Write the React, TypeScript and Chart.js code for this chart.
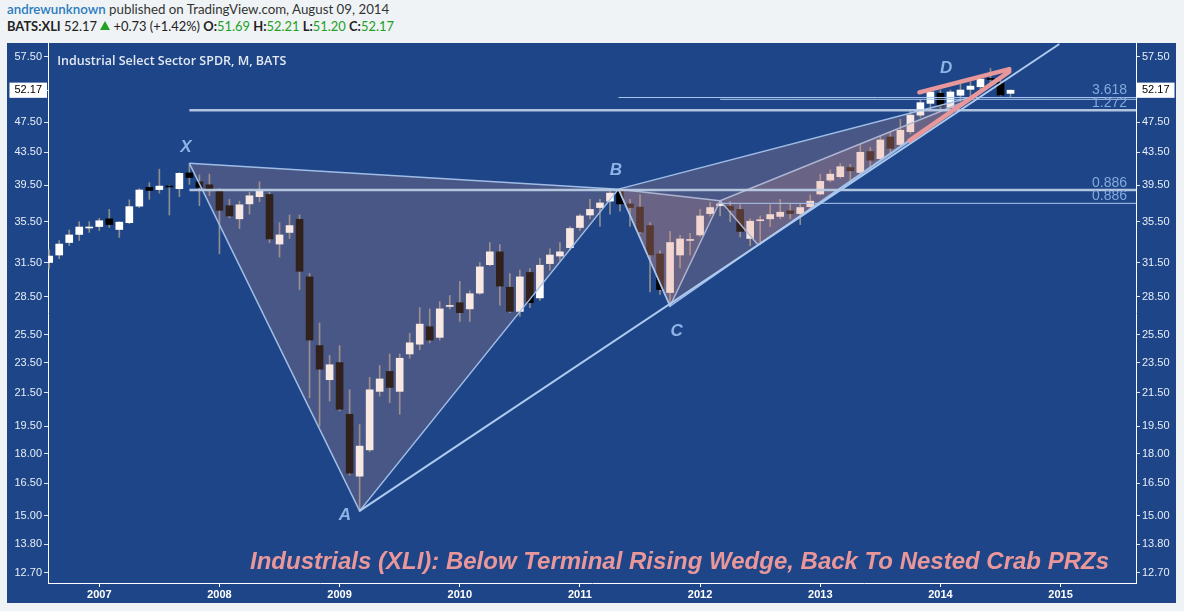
import React, { useEffect, useRef } from 'react';
import { Chart, registerables } from 'chart.js';

Chart.register(...registerables);
Chart.defaults.font.family = '"Liberation Sans", Arial, sans-serif';

// ---------- DATA ----------
const months = [
  '2006-08', '2006-09', '2006-10', '2006-11', '2006-12',
  '2007-01', '2007-02', '2007-03', '2007-04', '2007-05', '2007-06', '2007-07', '2007-08', '2007-09', '2007-10', '2007-11', '2007-12',
  '2008-01', '2008-02', '2008-03', '2008-04', '2008-05', '2008-06', '2008-07', '2008-08', '2008-09', '2008-10', '2008-11', '2008-12',
  '2009-01', '2009-02', '2009-03', '2009-04', '2009-05', '2009-06', '2009-07', '2009-08', '2009-09', '2009-10', '2009-11', '2009-12',
  '2010-01', '2010-02', '2010-03', '2010-04', '2010-05', '2010-06', '2010-07', '2010-08', '2010-09', '2010-10', '2010-11', '2010-12',
  '2011-01', '2011-02', '2011-03', '2011-04', '2011-05', '2011-06', '2011-07', '2011-08', '2011-09', '2011-10', '2011-11', '2011-12',
  '2012-01', '2012-02', '2012-03', '2012-04', '2012-05', '2012-06', '2012-07', '2012-08', '2012-09', '2012-10', '2012-11', '2012-12',
  '2013-01', '2013-02', '2013-03', '2013-04', '2013-05', '2013-06', '2013-07', '2013-08', '2013-09', '2013-10', '2013-11', '2013-12',
  '2014-01', '2014-02', '2014-03', '2014-04', '2014-05', '2014-06', '2014-07', '2014-08',
];

const opens = [
  31.5, 32.2, 33.4, 34.2, 34.85,
  35.0, 35.8, 34.7, 35.4, 37.15, 39.25, 39.0, 39.4, 39.1, 40.95, 39.9, 39.55,
  38.9, 37.2, 35.8, 37.4, 38.2, 38.45, 33.25, 34.4, 35.75, 30.2, 24.7, 22.35,
  23.5, 20.2, 16.85, 18.2, 21.6, 22.9, 21.6, 24.1, 24.8, 26.1, 25.3, 27.7,
  28.0, 27.5, 28.8, 31.3, 32.5, 29.3, 27.3, 30.6, 28.4, 31.4, 32.1, 32.9,
  34.9, 36.2, 37.0, 37.7, 38.8, 37.4, 37.05, 35.1, 32.3, 28.85, 32.2, 33.6,
  34.15, 36.35, 37.2, 37.15, 36.8, 33.8, 35.6, 35.8, 36.05, 36.65, 36.35, 37.1,
  38.5, 40.1, 40.5, 41.6, 41.0, 43.6, 42.7, 45.5, 44.5, 46.2, 48.5, 50.2,
  51.7, 49.6, 51.4, 52.3, 52.7, 53.95, 53.35, 51.69,
];

const highs = [
  32.7, 33.6, 34.65, 35.5, 35.5,
  35.85, 36.8, 35.5, 37.85, 39.1, 39.8, 41.4, 39.5, 41.0, 42.1, 40.7, 40.8,
  39.1, 37.9, 37.7, 38.7, 39.9, 38.7, 35.4, 36.2, 36.2, 30.5, 26.4, 24.0,
  24.7, 21.7, 19.6, 22.5, 23.3, 24.1, 24.1, 25.6, 27.6, 27.5, 28.1, 28.6,
  29.8, 29.0, 31.5, 33.4, 33.2, 30.5, 30.8, 30.95, 31.9, 32.8, 33.4, 35.0,
  36.3, 37.9, 37.9, 38.8, 39.05, 37.9, 38.4, 35.4, 32.6, 34.5, 34.1, 34.3,
  36.8, 37.55, 37.75, 37.65, 37.3, 35.8, 36.1, 37.3, 37.9, 37.4, 37.4, 38.4,
  40.8, 41.3, 42.1, 42.0, 44.5, 44.1, 45.6, 46.1, 47.9, 49.1, 50.7, 52.4,
  52.2, 52.2, 53.1, 53.5, 54.0, 55.6, 54.3, 52.21,
];

const lows = [
  30.95, 31.85, 33.1, 33.6, 34.4,
  34.6, 34.9, 33.9, 35.3, 37.0, 37.9, 38.6, 36.2, 38.2, 39.6, 37.2, 38.3,
  32.3, 35.9, 34.8, 36.3, 37.65, 33.4, 32.0, 33.8, 29.1, 21.2, 19.5, 21.0,
  20.4, 16.9, 15.2, 18.1, 21.3, 20.9, 20.2, 23.8, 24.4, 24.9, 25.1, 27.5,
  26.5, 26.5, 28.7, 31.2, 27.8, 27.2, 26.9, 27.6, 28.2, 30.8, 31.7, 32.7,
  34.6, 35.8, 35.0, 36.3, 36.6, 35.0, 34.3, 28.9, 28.7, 27.75, 31.0, 32.2,
  34.0, 36.1, 36.1, 35.5, 33.95, 33.1, 33.2, 35.0, 35.8, 35.8, 35.2, 36.9,
  38.4, 39.9, 40.3, 39.9, 40.8, 41.4, 42.5, 43.4, 44.2, 45.9, 48.2, 49.1,
  49.3, 48.5, 50.5, 50.9, 52.0, 53.3, 51.3, 51.2,
];

const closes = [
  32.1, 33.25, 34.15, 34.95, 34.9,
  35.6, 35.2, 35.45, 37.1, 38.95, 38.9, 39.4, 39.3, 40.9, 40.4, 39.25, 38.9,
  36.7, 36.1, 37.3, 38.3, 38.85, 33.75, 34.15, 35.1, 30.7, 25.1, 23.05, 23.35,
  20.5, 17.0, 18.4, 21.7, 22.4, 21.85, 23.8, 24.9, 26.3, 25.1, 27.5, 27.75,
  27.2, 28.75, 31.1, 32.5, 29.4, 27.3, 30.2, 28.0, 31.25, 32.2, 32.5, 34.8,
  36.1, 36.8, 37.5, 38.6, 37.4, 37.0, 34.45, 32.2, 29.1, 33.4, 33.75, 33.7,
  36.1, 37.0, 37.4, 36.7, 34.5, 35.55, 35.7, 36.25, 36.5, 36.35, 37.0, 37.7,
  39.95, 40.8, 41.7, 41.2, 43.5, 42.5, 45.1, 44.0, 46.4, 48.5, 50.3, 51.9,
  49.8, 51.9, 52.2, 52.8, 53.9, 53.85, 51.44, 52.17,
];

const yTicks = [12.7, 13.8, 15.0, 16.5, 18.0, 19.5, 21.5, 23.5, 25.5, 28.5, 31.5, 35.5, 39.5, 43.5, 47.5, 52.17, 57.5];
const lastPrice = 52.17;
const yearLabels = ['2007', '2008', '2009', '2010', '2011', '2012', '2013', '2014', '2015'];

// Pattern pivots: [months since Jan 2007, price]
const pivotX = [9, 42.12];
const pivotA = [26, 15.22];
const pivotB = [51.85, 39.05];
const pivotC = [57, 27.73];
const pivotD = [87, 51.07];
const nestedB = [62, 37.75];
const nestedC = [65.8, 33.16];
const nestedD = [87, 50.8];
const supportEnd = [95.88, 59.73];

const fibPrices = [38.95, 37.46, 51.07, 50.8, 49.19];
const fibStarts = [9, 62, 51.85, 62, 9];
const fibNames = ['0.886', '0.886', '3.618', '', '1.272'];

const wedgeUpper = [[81.9, 51.85], [90.88, 55.5]];
const wedgeLower = [[80.9, 45.0], [90.88, 55.1]];

const pivotLabels = ['X', 'A', 'B', 'C', 'D'];
const pivotLabelPos = [[8.66, 44.18], [24.54, 15.04], [51.6, 41.3], [57.65, 25.78], [84.56, 55.68]];

const xRange = [-5.12, 103.53];
const yRange = [12.324, 59.906];

// ---------- HELPERS ----------
const monthIndex = (s: string) => {
  const [yy, mm] = s.split('-').map(Number);
  return (yy - 2007) * 12 + (mm - 1);
};
const pt = (p: number[]) => ({ x: p[0], y: p[1] });

const FILL = 'rgba(222,150,130,0.22)';
const EDGE = 'rgba(165,195,236,0.95)';

function fitText(ctx: CanvasRenderingContext2D, text: string, x: number, y: number, width: number, font: string, color: string) {
  ctx.save();
  ctx.font = font;
  ctx.fillStyle = color;
  ctx.textAlign = 'left';
  ctx.textBaseline = 'alphabetic';
  const w = ctx.measureText(text).width;
  ctx.translate(x, y);
  ctx.scale(width / w, 1);
  ctx.fillText(text, 0, 0);
  ctx.restore();
}

const overlayText = {
  id: 'overlayText',
  afterDatasetsDraw(chart: any) {
    const { ctx, chartArea, scales } = chart;
    const x = scales.x;
    const y = scales.y;
    fitText(ctx, 'Industrial Select Sector SPDR, M, BATS', chartArea.left + 9.3, chartArea.top + 22, 229, '600 13px "Open Sans"', '#e3e9f3');
    fitText(ctx, 'Industrials (XLI): Below Terminal Rising Wedge, Back To Nested Crab PRZs', chartArea.left + 202, chartArea.bottom - 13.7, 859, 'italic bold 23px "Liberation Sans"', '#e9979a');

    ctx.save();
    ctx.font = 'italic bold 17px "Liberation Sans"';
    ctx.fillStyle = '#8fb3e6';
    ctx.textAlign = 'center';
    ctx.textBaseline = 'middle';
    pivotLabels.forEach((t, i) => {
      ctx.fillText(t, x.getPixelForValue(pivotLabelPos[i][0]), y.getPixelForValue(pivotLabelPos[i][1]));
    });
    ctx.restore();

    ctx.save();
    ctx.font = '14px "Liberation Sans"';
    ctx.fillStyle = '#86a9dd';
    ctx.textAlign = 'right';
    ctx.textBaseline = 'alphabetic';
    fibNames.forEach((t, i) => {
      if (!t) return;
      ctx.fillText(t, x.getPixelForValue(102.64), y.getPixelForValue(fibPrices[i]) - 3);
    });
    ctx.restore();
  },
};

export default function App() {
  const ref = useRef<HTMLCanvasElement>(null);

  useEffect(() => {
    const xs = months.map(monthIndex);
    const datasets: any[] = [];
    const line = (label: string, pts: number[][], color: string, width: number, order: number, extra: any = {}) => {
      datasets.push({
        type: 'line', label, data: pts.map(pt), borderColor: color, borderWidth: width,
        pointRadius: 0, tension: 0, fill: false, order, ...extra,
      });
      return datasets.length - 1;
    };

    datasets.push({
      type: 'bar', label: 'wick', data: xs.map((x, i) => ({ x, y: [lows[i], highs[i]] })),
      backgroundColor: '#8e8e8e', barThickness: 1, grouped: false, order: 30,
    });
    datasets.push({
      type: 'bar', label: 'body', data: xs.map((x, i) => ({ x, y: [opens[i], closes[i]] })),
      backgroundColor: (c: any) => (closes[c.dataIndex] >= opens[c.dataIndex] ? '#ffffff' : '#000000'),
      barThickness: 7, grouped: false, minBarLength: 1, order: 29,
    });

    // XAB triangle
    const iXB = line('XB', [pivotX, pivotB], EDGE, 1.5, 20);
    line('XAB', [pivotX, pivotA, pivotB], EDGE, 1.5, 20, { fill: { target: iXB, above: FILL, below: FILL } });
    // BCD triangle
    const iBD = line('BD', [pivotB, pivotD], EDGE, 1.5, 20);
    line('BCD', [pivotB, pivotC, pivotD], EDGE, 1.5, 20, { fill: { target: iBD, above: FILL, below: FILL } });
    // nested crab: X'A'B' and B'C'D'
    const iBB = line('BB2', [pivotB, nestedB], EDGE, 1.5, 20);
    line('BCB2', [pivotB, pivotC, nestedB], EDGE, 1.5, 20, { fill: { target: iBB, above: FILL, below: FILL } });
    const iBD2 = line('B2D2', [nestedB, nestedD], EDGE, 1.5, 20);
    line('B2C2D2', [nestedB, nestedC, nestedD], EDGE, 1.5, 20, { fill: { target: iBD2, above: FILL, below: FILL } });

    // fib levels
    fibPrices.forEach((p, i) => {
      const thick = fibNames[i] === '1.272' || i === 0;
      line('fib' + i, [[fibStarts[i], p], [xRange[1], p]], thick ? 'rgba(186,203,228,0.95)' : '#aac6ef', thick ? 2.5 : 1, 10);
    });

    // support line
    line('support', [pivotA, supportEnd], '#aecaf0', 2, 9);
    // rising wedge
    line('wedgeU', wedgeUpper, '#e8979a', 4.5, 1, { borderCapStyle: 'round' });
    line('wedgeL', wedgeLower, '#e8979a', 4.5, 1, { borderCapStyle: 'round' });

    const yAxis = (position: string, width: number) => ({
      type: 'logarithmic',
      position,
      min: yRange[0],
      max: yRange[1],
      afterBuildTicks: (s: any) => { s.ticks = yTicks.map((v) => ({ value: v })); },
      afterFit: (s: any) => { s.width = width; s.paddingTop = 0; s.paddingBottom = 0; },
      grid: { display: true, drawOnChartArea: false, drawTicks: true, tickLength: 4, tickColor: '#dfe6f2' },
      border: { display: true, color: '#ffffff', width: 1 },
      ticks: {
        autoSkip: false,
        padding: 2,
        font: { size: 11 },
        color: (c: any) => (c.tick && c.tick.value === lastPrice ? '#000000' : '#e6edf7'),
        showLabelBackdrop: (c: any) => !!(c.tick && c.tick.value === lastPrice),
        backdropColor: '#ffffff',
        backdropPadding: { top: 1, bottom: 1, left: 5, right: 5 },
        callback: (v: any) => Number(v).toFixed(2),
      },
    });

    const chart = new Chart(ref.current as HTMLCanvasElement, {
      type: 'bar',
      data: { datasets },
      options: {
        responsive: false,
        animation: false,
        devicePixelRatio: 1,
        layout: { padding: 0, autoPadding: false },
        plugins: { legend: { display: false }, tooltip: { enabled: false }, title: { display: false } },
        scales: {
          x: {
            type: 'linear',
            min: xRange[0],
            max: xRange[1],
            offset: false,
            afterBuildTicks: (s: any) => { s.ticks = yearLabels.map((_, i) => ({ value: i * 12 })); },
            afterFit: (s: any) => { s.height = 20; s.paddingLeft = 0; s.paddingRight = 0; },
            grid: { display: true, drawOnChartArea: false, drawTicks: true, tickLength: 4, tickColor: '#ffffff', offset: false },
            border: { display: true, color: '#ffffff', width: 1 },
            ticks: {
              autoSkip: false, maxRotation: 0, padding: 1, color: '#ffffff',
              font: { size: 11, weight: 'bold' },
              callback: (_v: any, i: number) => yearLabels[i],
            },
          },
          y: yAxis('left', 41),
          y2: yAxis('right', 40),
        },
      } as any,
      plugins: [overlayText],
    } as any);
    return () => chart.destroy();
  }, []);

  const green = { color: '#22a022' };
  return (
    <div style={{ position: 'fixed', left: 0, top: 0, width: 1184, height: 611, background: '#f0f3f6', fontFamily: 'Lato, sans-serif', overflow: 'hidden' }}>
      <div style={{ position: 'absolute', left: 7, top: 1, fontSize: 13.3, color: '#333', whiteSpace: 'nowrap' }}>
        <span style={{ color: '#2a7bbf', fontWeight: 600 }}>andrewunknown</span> published on TradingView.com, August 09, 2014
      </div>
      <div style={{ position: 'absolute', left: 7, top: 18, fontSize: 12.9, color: '#222', whiteSpace: 'nowrap' }}>
        <b>BATS:XLI</b> 52.17{' '}
        <span style={{ display: 'inline-block', width: 0, height: 0, borderLeft: '5px solid transparent', borderRight: '5px solid transparent', borderBottom: '9px solid #22a022', marginBottom: 1 }} />
        {' '}+0.73 (+1.42%) <b>O:</b><span style={green}>51.69</span> <b>H:</b><span style={green}>52.21</span> <b>L:</b><span style={green}>51.20</span> <b>C:</b><span style={green}>52.17</span>
      </div>
      <canvas ref={ref} width={1169} height={560} style={{ position: 'absolute', left: 7, top: 43, width: 1169, height: 560, background: '#1d4587' }} />
    </div>
  );
}
